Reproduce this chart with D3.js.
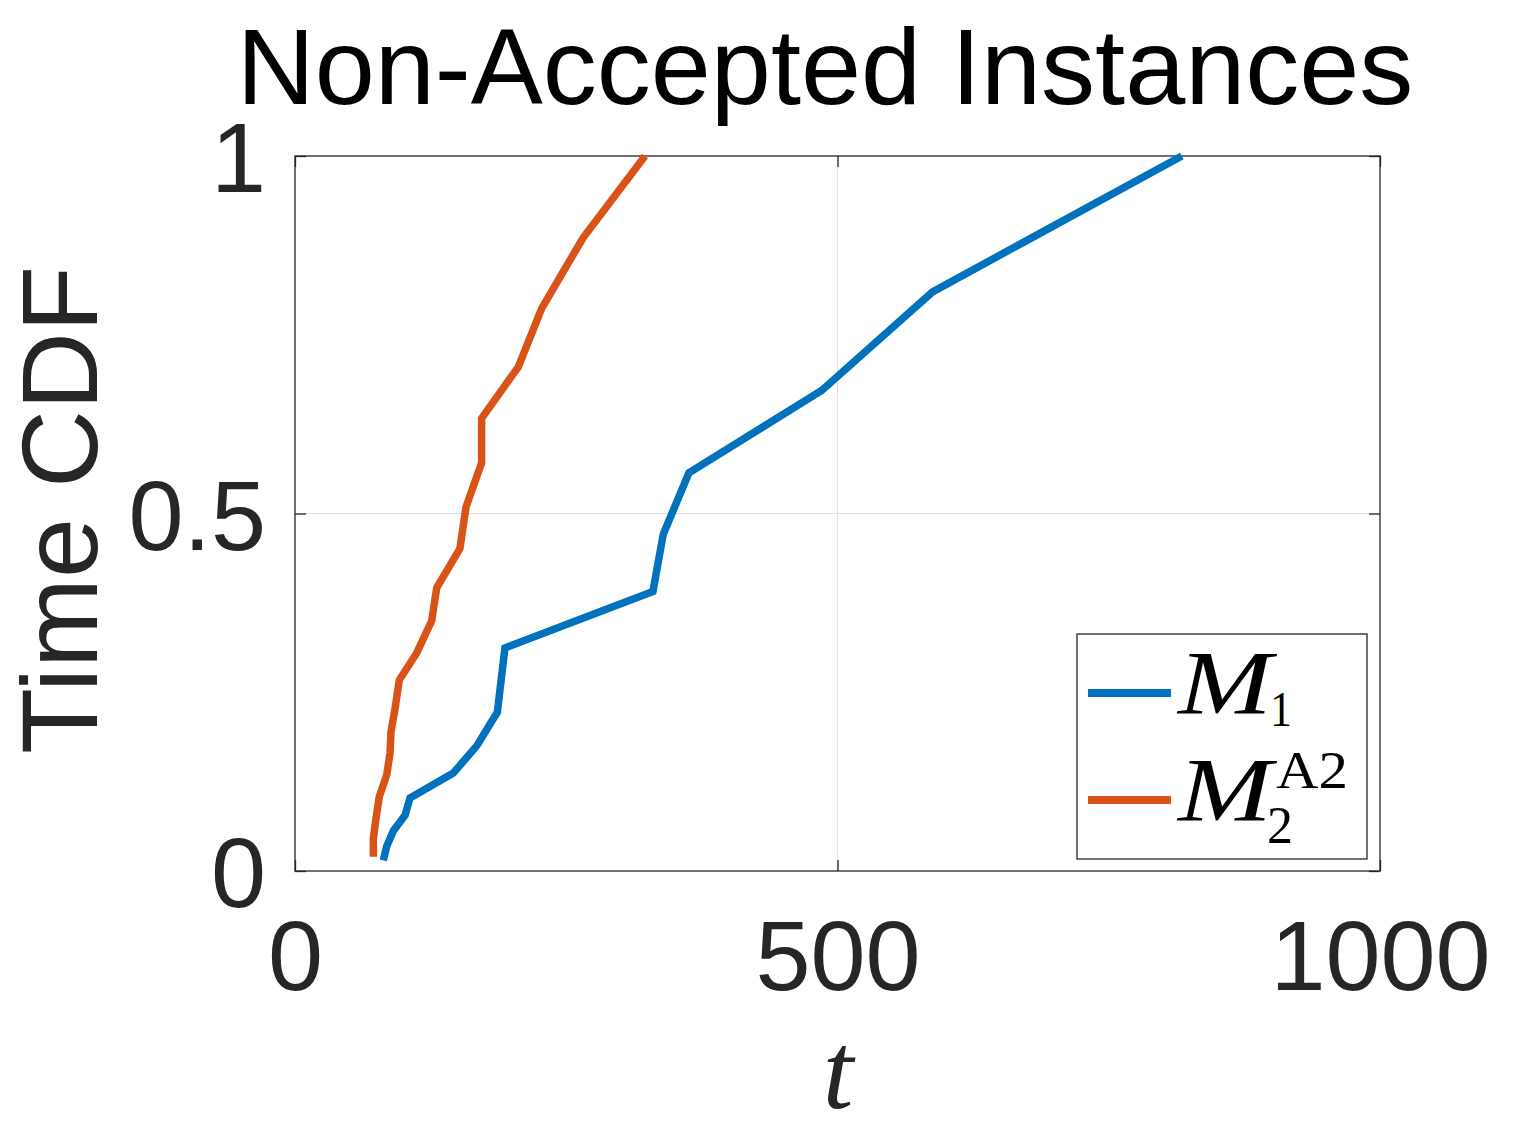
<!DOCTYPE html>
<html>
<head>
<meta charset="utf-8">
<script src="https://cdn.jsdelivr.net/npm/d3@7"></script>
<style>
  html, body { margin: 0; padding: 0; background: #fff; }
  svg { display: block; }
</style>
</head>
<body>
<svg id="chart" width="1522" height="1139"></svg>
<script>
// ---- data ----
const title = "Non-Accepted Instances";
const xTicks = [0, 500, 1000];
const yTicks = [0, 0.5, 1];
const yTickLabels = ["0", "0.5", "1"];
const xTickLabels = ["0", "500", "1000"];

const m1T = [81.4, 84.5, 90.6, 101.4, 106, 145.9, 167.5, 186.5, 193.5, 329.9, 339.4, 363.1, 485.4, 587.6, 817.4];
const m1Y = [0.015, 0.0345, 0.056, 0.078, 0.102, 0.137, 0.175, 0.222, 0.312, 0.391, 0.471, 0.557, 0.672, 0.810, 1.0];

const m2T = [72.2, 72.2, 74.7, 77.7, 84.5, 87.6, 88.5, 92.2, 96.1, 112.2, 126, 130.6, 152, 157.6, 172, 172, 205.8, 227.4, 265.7, 322.6];
const m2Y = [0.02, 0.045, 0.074, 0.104, 0.134, 0.165, 0.195, 0.227, 0.267, 0.305, 0.35, 0.396, 0.451, 0.509, 0.571, 0.633, 0.705, 0.787, 0.886, 1.0];

const seriesColors = ["#0072BD", "#D95319"];

(function () {
// ---- layout ----
const svg = d3.select("#chart");
const pL = 295, pR = 1380, pT = 156, pB = 871;
const x = d3.scaleLinear().domain([0, 1000]).range([pL, pR]);
const y = d3.scaleLinear().domain([0, 1]).range([pB, pT]);
const axisColor = "#262626";
const sans = "'Liberation Sans', Arial, Helvetica, sans-serif";
const serif = "'Liberation Serif', 'Times New Roman', serif";

svg.append("rect").attr("width", 1522).attr("height", 1139).attr("fill", "#fff");

// grid
const grid = svg.append("g");
grid.selectAll("line.gx").data(xTicks.slice(1, -1)).join("line")
  .attr("x1", d => x(d)).attr("x2", d => x(d)).attr("y1", pT).attr("y2", pB)
  .attr("stroke", "#dfdfdf").attr("stroke-width", 1.2);
grid.selectAll("line.gy").data(yTicks.slice(1, -1)).join("line")
  .attr("y1", d => y(d)).attr("y2", d => y(d)).attr("x1", pL).attr("x2", pR)
  .attr("stroke", "#dfdfdf").attr("stroke-width", 1.2);

// axes with inward ticks
const tickLen = 11;
const xAxisB = d3.axisBottom(x).tickValues(xTicks).tickSize(-tickLen).tickFormat((d, i) => xTickLabels[i]).tickPadding(tickLen + 38);
const xAxisT = d3.axisTop(x).tickValues(xTicks).tickSize(-tickLen).tickFormat("");
const yAxisL = d3.axisLeft(y).tickValues(yTicks).tickSize(-tickLen).tickFormat((d, i) => yTickLabels[i]).tickPadding(tickLen + 18);
const yAxisR = d3.axisRight(y).tickValues(yTicks).tickSize(-tickLen).tickFormat("");

function styleAxis(g) {
  g.select(".domain").remove();
  g.selectAll(".tick line").attr("stroke", axisColor).attr("stroke-width", 1.3);
  g.selectAll(".tick text").attr("fill", axisColor).attr("font-family", sans).attr("font-size", 99);
}
svg.append("g").attr("transform", `translate(0,${pB})`).call(xAxisB).call(styleAxis)
  .selectAll(".tick text").attr("dy", "0.71em");
svg.append("g").attr("transform", `translate(0,${pT})`).call(xAxisT).call(styleAxis);
svg.append("g").attr("transform", `translate(${pL},0)`).call(yAxisL).call(styleAxis)
  .selectAll(".tick text").attr("dy", "0.36em");
svg.append("g").attr("transform", `translate(${pR},0)`).call(yAxisR).call(styleAxis);

// box
svg.append("rect").attr("x", pL).attr("y", pT).attr("width", pR - pL).attr("height", pB - pT)
  .attr("fill", "none").attr("stroke", axisColor).attr("stroke-width", 1.3);

// lines
const line = d3.line().x(d => x(d[0])).y(d => y(d[1]));
const series = [
  m1T.map((t, i) => [t, m1Y[i]]),
  m2T.map((t, i) => [t, m2Y[i]])
];
svg.append("g").selectAll("path").data(series).join("path")
  .attr("d", line).attr("fill", "none")
  .attr("stroke", (d, i) => seriesColors[i]).attr("stroke-width", 7.5)
  .attr("stroke-linejoin", "miter").attr("stroke-linecap", "butt");

// title
svg.append("text").attr("x", 825).attr("y", 104).attr("text-anchor", "middle")
  .attr("font-family", sans).attr("font-size", 108).attr("fill", "#000").text(title);

// y label
svg.append("text").attr("transform", "translate(97,510) rotate(-90)").attr("text-anchor", "middle")
  .attr("font-family", sans).attr("font-size", 108).attr("fill", axisColor).text("Time CDF");

// x label
svg.append("text").attr("x", 838).attr("y", 1108).attr("text-anchor", "middle")
  .attr("font-family", serif).attr("font-style", "italic").attr("font-size", 110).attr("fill", axisColor).text("t");

// legend
const lg = svg.append("g");
lg.append("rect").attr("x", 1077).attr("y", 634).attr("width", 290).attr("height", 225)
  .attr("fill", "#fff").attr("stroke", axisColor).attr("stroke-width", 1.3);
const legY = [693, 800];
lg.selectAll("line").data(seriesColors).join("line")
  .attr("x1", 1088).attr("x2", 1171).attr("y1", (d, i) => legY[i]).attr("y2", (d, i) => legY[i])
  .attr("stroke", d => d).attr("stroke-width", 8);

const txt = (xp, yp, s, size, italic, len) => {
  const t = lg.append("text").attr("x", xp).attr("y", yp).attr("font-family", serif)
    .attr("font-size", size).attr("fill", "#000").text(s);
  if (italic) t.attr("font-style", "italic");
  if (len) t.attr("textLength", len).attr("lengthAdjust", "spacingAndGlyphs");
  return t;
};
txt(1178, 714, "M", 90, true, 94);
txt(1270, 726, "1", 50, false, 22);
txt(1178, 821, "M", 90, true, 94);
txt(1267, 843, "2", 52, false, 26);
txt(1276, 788, "A2", 52, false, 72);
})();
</script>
</body>
</html>
